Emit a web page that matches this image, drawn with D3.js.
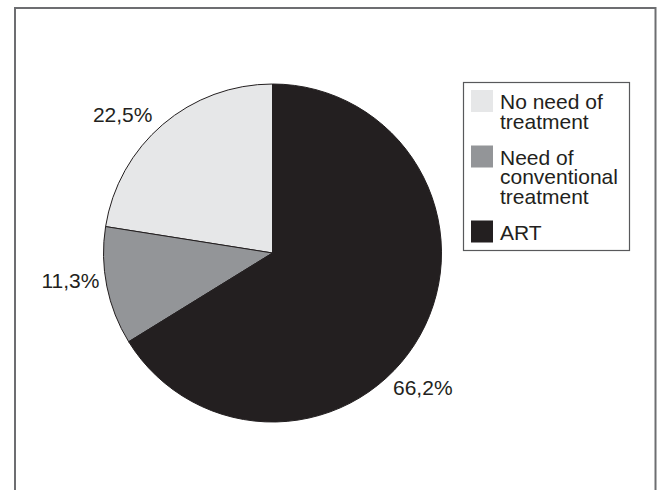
<!DOCTYPE html>
<html>
<head>
<meta charset="utf-8">
<script src="https://cdn.jsdelivr.net/npm/d3@7"></script>
<style>
  html, body { margin: 0; padding: 0; background: #fff; }
  svg { display: block; }
  text { font-family: "Liberation Sans", Arial, Helvetica, sans-serif; fill: #231f20; }
</style>
</head>
<body>
<script>
// Treatment groups, in legend order
const categories = ["No need of treatment", "Need of conventional treatment", "ART"];
const legendLines = [["No need of", "treatment"], ["Need of", "conventional", "treatment"], ["ART"]];
const values = [22.5, 11.3, 66.2];
const valueLabels = ["22,5%", "11,3%", "66,2%"];
const fills = ["#e6e7e8", "#939598", "#231f20"];

const W = 661, H = 490;
const cx = 272.5, cy = 253, R = 169;
const labelR = 203;
// small nudges so the percentage labels sit clear of the slice edges
const labelNudge = [[-18, 16.5], [-3, -12], [-27, 36]];

const svg = d3.select("body").append("svg").attr("width", W).attr("height", H);

// outer frame (open at the bottom edge of the page)
svg.append("rect")
  .attr("x", 15).attr("y", 8)
  .attr("width", 640.5).attr("height", 500)
  .attr("fill", "none").attr("stroke", "#6d6e71").attr("stroke-width", 2);

const items = categories.map((c, i) => ({ i, c, v: values[i] }));

// ART first, clockwise from twelve o'clock
const pie = d3.pie().value(d => d.v).sort((a, b) => b.i - a.i);
const arcs = pie(items);

const arc = d3.arc().innerRadius(0).outerRadius(R);
const labelArc = d3.arc().innerRadius(labelR).outerRadius(labelR);

const g = svg.append("g").attr("transform", `translate(${cx},${cy})`);

g.selectAll("path.slice")
  .data(arcs)
  .join("path")
  .attr("class", "slice")
  .attr("d", arc)
  .attr("fill", d => fills[d.data.i])
  .attr("stroke", "#231f20")
  .attr("stroke-width", 1)
  .attr("stroke-linejoin", "round");

g.selectAll("text.pct")
  .data(arcs)
  .join("text")
  .attr("class", "pct")
  .attr("transform", d => {
    const [x, y] = labelArc.centroid(d);
    const [nx, ny] = labelNudge[d.data.i];
    return `translate(${x + nx},${y + ny})`;
  })
  .attr("text-anchor", "middle")
  .attr("dy", "0.35em")
  .style("font-size", "21px")
  .text(d => valueLabels[d.data.i]);

// legend
const lg = svg.append("g");
lg.append("rect")
  .attr("x", 463.5).attr("y", 82.5)
  .attr("width", 166).attr("height", 168)
  .attr("fill", "#fff").attr("stroke", "#58595b").attr("stroke-width", 1.2);

const sw = 22, lineH = 19.5, gap = 16.5;
let rowTop = 90;
items.forEach((d, i) => {
  const row = lg.append("g").attr("transform", `translate(471,${rowTop})`);
  row.append("rect")
    .attr("x", 0).attr("y", 0)
    .attr("width", sw).attr("height", sw)
    .attr("fill", fills[i]);
  legendLines[i].forEach((ln, k) => {
    row.append("text")
      .attr("x", 29).attr("y", 19 + k * lineH)
      .style("font-size", "21px")
      .text(ln);
  });
  rowTop += legendLines[i].length * lineH + gap;
});
</script>
</body>
</html>
